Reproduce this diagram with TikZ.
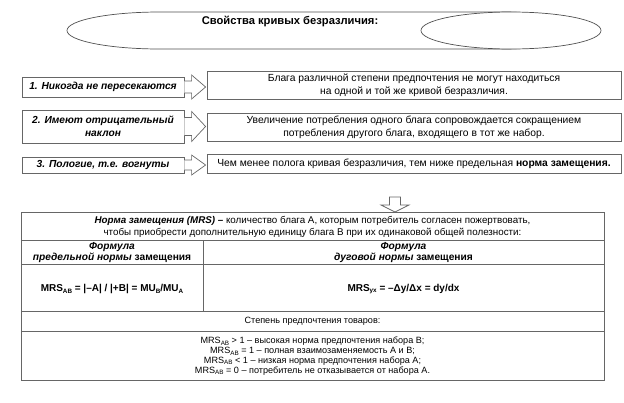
\documentclass[tikz,border=0pt]{standalone}
\usepackage{fontspec}
\setmainfont{Liberation Sans}
\usetikzlibrary{calc}
\definecolor{linegray}{HTML}{666666}
\definecolor{ellgray}{HTML}{505050}
\newcommand{\lowsub}[1]{\raisebox{-0.35ex}{\fontsize{6.3}{6.3}\selectfont #1}}
% horizontal block arrow: tail point, tip point, shaft half, head half, head length
\newcommand{\harrow}[5]{%
  \draw[arr] ($#1+(0,-#3)$) -- ($#2+(-#5,-#3)$) -- ($#2+(-#5,-#4)$) -- #2
    -- ($#2+(-#5,#4)$) -- ($#2+(-#5,#3)$) -- ($#1+(0,#3)$);}
\begin{document}
\begin{tikzpicture}[x=1pt,y=-1pt,
  lbox/.style={draw=linegray, line width=0.8pt, fill=white, minimum width=162pt,
    align=center, inner sep=0pt, font=\fontsize{10.2}{13}\selectfont\bfseries\itshape},
  rbox/.style={draw=linegray, line width=0.8pt, fill=white, minimum width=414pt,
    align=center, inner sep=0pt, font=\fontsize{10.3}{13}\selectfont},
  arr/.style={draw=linegray, line width=0.7pt, fill=white, line join=miter},
  tline/.style={draw=linegray, line width=0.9pt},
  ttext/.style={align=center, inner sep=0pt, font=\fontsize{9.8}{12}\selectfont},
  htext/.style={align=center, inner sep=0pt, font=\fontsize{10.2}{11}\selectfont\bfseries},
  ftext/.style={align=center, inner sep=0pt, font=\fontsize{10}{11}\selectfont\bfseries},
  btext/.style={align=center, inner sep=0pt, font=\fontsize{9.1}{9.8}\selectfont}]
\useasboundingbox (0,0) rectangle (624,402);

% title shapes
\draw[ellgray, line width=0.7pt] (160,49) -- (505,49)
  arc[start angle=90, end angle=-90, x radius=60, y radius=18.5] -- (160,12)
  arc[start angle=270, end angle=90, x radius=93, y radius=18.5] -- cycle;
\draw[ellgray, line width=0.7pt, fill=white] (511,30.5) ellipse[x radius=90, y radius=18.5];
\node[font=\fontsize{11.2}{13}\selectfont\bfseries, inner sep=0pt] (title) at (290,21) {Свойства кривых безразличия:};

% rows
\node[lbox, minimum height=20pt] (L1) at (103,87) {1. Никогда не пересекаются};
\node[lbox, minimum height=33pt] (L2) at (103,126.5) {2. Имеют отрицательный\\наклон};
\node[lbox, minimum height=16pt] (L3) at (103,165) {3. Пологие, т.е. вогнуты};
\node[rbox, minimum height=28pt] (R1) at (414,85) {Блага различной степени предпочтения не могут находиться\\на одной и той же кривой безразличия.};
\node[rbox, minimum height=28pt] (R2) at (414,127) {Увеличение потребления одного блага сопровождается сокращением\\потребления другого блага, входящего в тот же набор.};
\node[rbox, minimum height=19pt] (R3) at (414,163.5) {Чем менее полога кривая безразличия, тем ниже предельная \textbf{норма замещения.}};

\coordinate (a1s) at (L1.east);
\coordinate (a1t) at ($(R1.west |- L1.east)+(-1,0)$);
\coordinate (a2s) at (L2.east);
\coordinate (a2t) at ($(R2.west |- L2.east)+(-1,0)$);
\coordinate (a3s) at (L3.east);
\coordinate (a3t) at ($(R3.west |- L3.east)+(-1,0)$);
\harrow{(a1s)}{(a1t)}{6}{12}{14}
\harrow{(a2s)}{(a2t)}{9}{15}{14}
\harrow{(a3s)}{(a3t)}{5}{10}{14}

% table
\node[draw=linegray, line width=0.9pt, minimum width=583pt, minimum height=168pt, inner sep=0pt] (tbl) at (312.5,296) {};
\coordinate (dtip) at (395,212);
\draw[arr] ($(dtip)+(-5.5,-15)$) -- ($(dtip)+(-5.5,-7)$) -- ($(dtip)+(-14,-7)$) -- (dtip)
  -- ($(dtip)+(14,-7)$) -- ($(dtip)+(5.5,-7)$) -- ($(dtip)+(5.5,-15)$) -- cycle;

\draw[tline] (21,240) -- (604,240);
\draw[tline] (21,264) -- (604,264);
\draw[tline] (21,311) -- (604,311);
\draw[tline] (21,331) -- (604,331);
\draw[tline] (203,240) -- (203,311);

\node[ttext] (def) at (312.5,226.5) {\textbf{\textit{Норма замещения (MRS) –}} количество блага А, которым потребитель согласен пожертвовать,\\чтобы приобрести дополнительную единицу блага В при их одинаковой общей полезности:};
\node[htext] (h1) at (112,252.5) {\textit{Формула}\\\textit{предельной нормы} замещения};
\node[htext] (h2) at (403.5,252.5) {\textit{Формула}\\\textit{дуговой нормы} замещения};
\node[ftext] (f1) at (112,289) {MRS\lowsub{AB} = |–A| / |+B| = MU\lowsub{B}/MU\lowsub{A}};
\node[ftext] (f2) at (403.5,289) {MRS\lowsub{yx} = –Δy/Δx = dy/dx};
\node[btext] (deg) at (312.5,321) {Степень предпочтения товаров:};
\node[btext] (list) at (312.5,356) {MRS\lowsub{AB} > 1 – высокая норма предпочтения набора В;\\MRS\lowsub{AB} = 1 – полная взаимозаменяемость А и В;\\MRS\lowsub{AB} < 1 – низкая норма предпочтения набора А;\\MRS\lowsub{AB} = 0 – потребитель не отказывается от набора А.};
\end{tikzpicture}
\end{document}
